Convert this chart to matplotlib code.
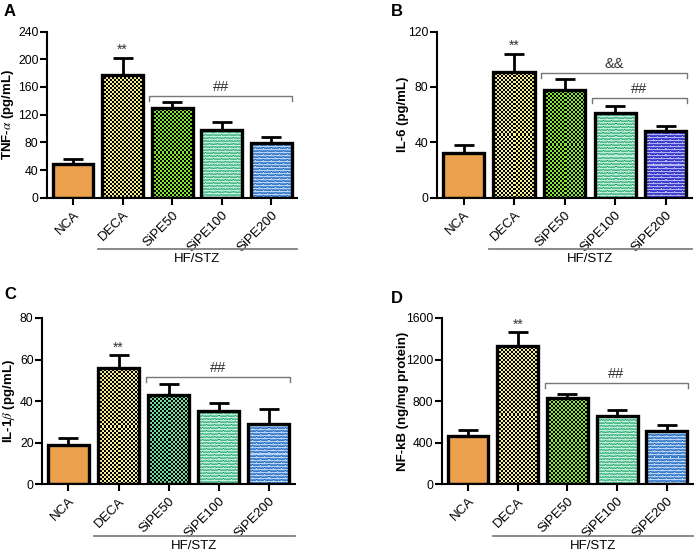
import matplotlib
matplotlib.use('Agg')
import matplotlib.pyplot as plt
import matplotlib.transforms as mtransforms
from matplotlib.colors import to_rgb
import numpy as np

plt.rcParams['font.family'] = ['Liberation Sans', 'DejaVu Sans']
plt.rcParams['mathtext.fontset'] = 'stix'

groups = ['NCA', 'DECA', 'SiPE50', 'SiPE100', 'SiPE200']

# panel A: TNF-alpha
tnf_mean = [49, 177, 130, 98, 79]
tnf_err = [7, 25, 9, 12, 9]
# panel B: IL-6
il6_mean = [32, 91, 78, 61, 48]
il6_err = [6, 13, 8, 5, 4]
# panel C: IL-1beta
il1b_mean = [19, 56, 43, 35, 29]
il1b_err = [3, 6, 5, 4, 7]
# panel D: NF-kB
nfkb_mean = [465, 1330, 830, 660, 515]
nfkb_err = [55, 135, 40, 55, 55]

ORANGE = '#EBA04E'
YELLOW = '#F8EE94'
GREEN = '#86E834'
MINT = '#66D6A4'
BLUE = '#4E92E2'
VIOLET = '#4646E2'

panels = [
    dict(letter='A', mean=tnf_mean, err=tnf_err, ylabel='TNF-$\\alpha$ (pg/mL)',
         ymax=240, step=40, ylab_x=-0.124,
         colors=[ORANGE, YELLOW, GREEN, MINT, BLUE],
         brackets=[(2, 4, 147, '##')],
         rect=[0.067, 0.643, 0.358, 0.300]),
    dict(letter='B', mean=il6_mean, err=il6_err, ylabel='IL-6 (pg/mL)',
         ymax=120, step=40, ylab_x=-0.11,
         colors=[ORANGE, YELLOW, GREEN, MINT, VIOLET],
         brackets=[(2, 4, 90, '&&'), (3, 4, 72, '##')],
         rect=[0.625, 0.643, 0.365, 0.300]),
    dict(letter='C', mean=il1b_mean, err=il1b_err, ylabel='IL-1$\\beta$ (pg/mL)',
         ymax=80, step=20, ylab_x=-0.10,
         colors=[ORANGE, YELLOW, '#72DE9E', MINT, BLUE],
         brackets=[(2, 4, 51.5, '##')],
         rect=[0.060, 0.126, 0.362, 0.300]),
    dict(letter='D', mean=nfkb_mean, err=nfkb_err, ylabel='NF-kB (ng/mg protein)',
         ymax=1600, step=400, ylab_x=-0.131,
         colors=[ORANGE, YELLOW, GREEN, MINT, BLUE],
         brackets=[(2, 4, 975, '##')],
         rect=[0.632, 0.126, 0.359, 0.300]),
]

# fill texture per group: plain, checker, checker, brick, brick
textures = [None, 'check', 'check', 'brick', 'brick']


def make_texture(kind, color, w_px, h_px):
    base = np.array(to_rgb(color))
    img = np.tile(base, (h_px, w_px, 1))
    yy, xx = np.mgrid[0:h_px, 0:w_px]
    if kind == 'check':
        mask = ((yy // 2) + (xx // 2)) % 2 == 0
        img[mask] = 0.0
    else:
        light = base + (1 - base) * 0.6
        dark = base * 0.6
        row = yy // 3
        mortar = (yy % 3 == 0)
        joint = ((xx + (row % 2) * 4) % 8 == 0)
        img[mortar | joint] = light
        img[(yy % 3 == 2) & ~joint] = base * 0.85
        img[(yy % 3 == 1) & joint] = dark
    return img


fig = plt.figure(figsize=(6.99, 5.54), dpi=100)

for p in panels:
    ax = fig.add_axes(p['rect'])
    ymax = p['ymax']
    ax.set_ylim(0, ymax)
    ax.set_xlim(-0.53, 4.52)
    x = list(range(len(groups)))
    w = 0.82
    for i in x:
        col = p['colors'][i]
        face = ax.bar(i, p['mean'][i], width=w, color=col, linewidth=0, zorder=2)[0]
        if textures[i]:
            p0 = ax.transData.transform((i - w / 2, 0))
            p1 = ax.transData.transform((i + w / 2, p['mean'][i]))
            wp, hp = int(round(p1[0] - p0[0])), int(round(p1[1] - p0[1]))
            tex = make_texture(textures[i], col, wp, hp)
            im = ax.imshow(tex, extent=(i - w / 2, i + w / 2, 0, p['mean'][i]),
                           origin='upper', aspect='auto', interpolation='nearest', zorder=2.5)
            im.set_clip_path(face)
        ax.bar(i, p['mean'][i], width=w, facecolor='none', edgecolor='black',
               linewidth=2.4, zorder=3)
        ax.errorbar(i, p['mean'][i], yerr=[[0], [p['err'][i]]], fmt='none',
                    ecolor='black', elinewidth=2, capsize=7, capthick=2, zorder=1)

    ax.set_ylim(0, ymax)
    ax.set_xlim(-0.53, 4.52)
    ax.set_yticks(range(0, ymax + 1, p['step']))
    ax.set_xticks(x)
    ax.set_xticklabels(groups, rotation=45, ha='right', rotation_mode='anchor', fontsize=9.5)
    ax.tick_params(axis='y', labelsize=8.8, width=1.5, length=5, pad=1)
    ax.tick_params(axis='x', width=1.5, length=5, pad=3)
    for s in ['top', 'right']:
        ax.spines[s].set_visible(False)
    for s in ['left', 'bottom']:
        ax.spines[s].set_linewidth(1.5)
    ax.set_ylabel(p['ylabel'], fontsize=9.5, fontweight='bold')
    ax.yaxis.set_label_coords(p['ylab_x'], 0.5)

    # ** over DECA
    ax.annotate('**', (1, p['mean'][1] + p['err'][1]), xytext=(0, 0.5),
                textcoords='offset points', ha='center', va='bottom', fontsize=10,
                color='#333333')

    # significance brackets
    tick = ymax * 0.03
    for a, b, yv, lab in p['brackets']:
        x0, x1 = a - 0.46, b + 0.42
        ax.plot([x0, x0, x1, x1], [yv - tick, yv, yv, yv - tick], color='#777777',
                lw=1, clip_on=False, zorder=4)
        ax.text((x0 + x1) / 2, yv + ymax * 0.012, lab, ha='center', va='bottom',
                fontsize=10.5, color='#333333')

    # HF/STZ group line
    trans = mtransforms.blended_transform_factory(ax.transData, ax.transAxes)
    ax.plot([1 - 0.5, 4.52], [-0.31, -0.31], color='#808080', lw=1.3,
            transform=trans, clip_on=False)
    ax.text((0.5 + 4.52) / 2, -0.335, 'HF/STZ', transform=trans, ha='center',
            va='top', fontsize=9.5)

# panel letters
for letter, (lx, ly) in zip('ABCD', [(4, 4), (391, 4), (4, 287), (391, 291)]):
    fig.text(lx / 699, 1 - ly / 554, letter, fontsize=12, fontweight='bold',
             va='top', ha='left')

fig.savefig('out.png', dpi=100)
